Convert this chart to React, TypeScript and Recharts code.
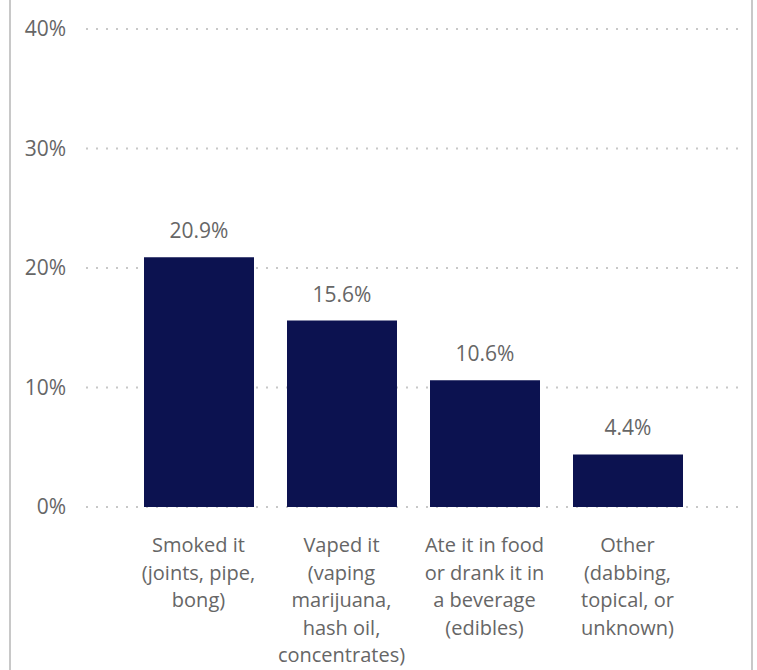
import { BarChart, Bar, XAxis, YAxis, CartesianGrid, LabelList } from "recharts";

const categories = [
  "Smoked it\n(joints, pipe,\nbong)",
  "Vaped it\n(vaping\nmarijuana,\nhash oil,\nconcentrates)",
  "Ate it in food\nor drank it in\na beverage\n(edibles)",
  "Other\n(dabbing,\ntopical, or\nunknown)",
];
const shares = [20.9, 15.6, 10.6, 4.4];
const yTicks = [0, 10, 20, 30, 40];

const data = categories.map((name, i) => ({ name, value: shares[i] }));

const TEXT = "#666666";
const FONT = "'Open Sans', sans-serif";

// eslint-disable-next-line @typescript-eslint/no-explicit-any
function CategoryTick({ x, y, payload }: any) {
  const lines = String(payload.value).split("\n");
  return (
    <text x={x} y={y} textAnchor="middle" fill={TEXT} fontSize={20} fontFamily={FONT}>
      {lines.map((line, i) => (
        <tspan key={i} x={x} dy={i === 0 ? 37 : 27.5}>
          {line}
        </tspan>
      ))}
    </text>
  );
}

export default function App() {
  return (
    <div style={{ position: "absolute", left: 0, top: 0, width: 757, height: 670 }}>
      <BarChart
        width={757}
        height={670}
        data={data}
        margin={{ top: 29, right: 19, bottom: 0, left: 0 }}
        barSize={110}
      >
        <CartesianGrid vertical={false} stroke="#c8c8c8" strokeWidth={2} strokeDasharray="2 8" />
        <XAxis
          dataKey="name"
          height={163}
          axisLine={false}
          tickLine={false}
          interval={0}
          padding={{ left: 41, right: 39 }}
          tick={<CategoryTick />}
        />
        <YAxis
          width={86}
          domain={[0, 40]}
          ticks={yTicks}
          axisLine={false}
          tickLine={false}
          tickSize={0}
          tickMargin={20}
          tickFormatter={(v) => `${v}%`}
          tick={{ fill: TEXT, fontSize: 21, fontFamily: FONT }}
        />
        <Bar dataKey="value" fill="#0c1250" isAnimationActive={false}>
          <LabelList
            dataKey="value"
            position="top"
            offset={19}
            formatter={(v: number) => `${v.toFixed(1)}%`}
            style={{ fill: TEXT, fontSize: 21, fontFamily: FONT }}
          />
        </Bar>
      </BarChart>
      <div
        style={{
          position: "absolute",
          left: 9,
          top: 0,
          width: 744,
          height: 670,
          boxSizing: "border-box",
          borderLeft: "2px solid #c8c8c8",
          borderRight: "2px solid #c8c8c8",
          pointerEvents: "none",
          zIndex: 2,
        }}
      />
    </div>
  );
}
